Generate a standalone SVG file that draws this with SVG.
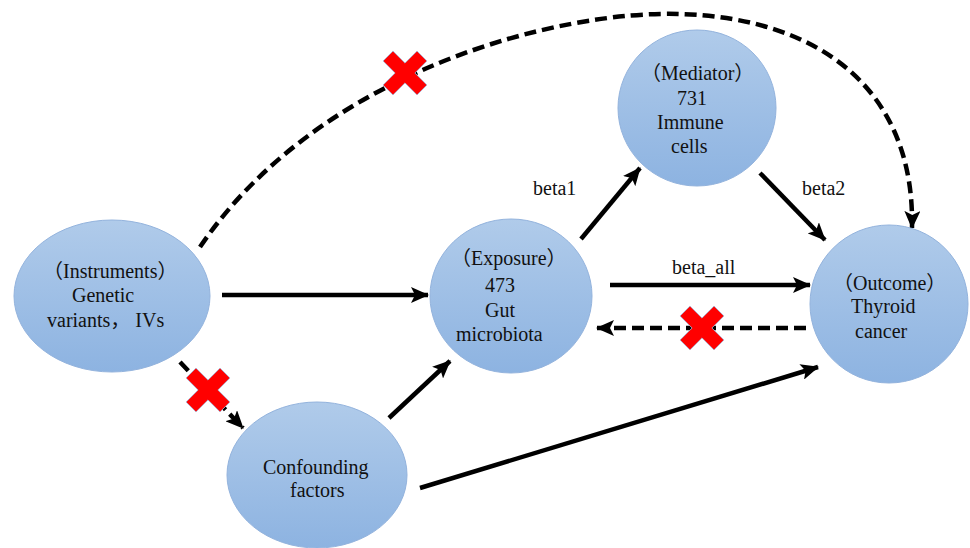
<svg xmlns="http://www.w3.org/2000/svg" width="970" height="548" viewBox="0 0 970 548">
<style>
.node{fill:url(#g);stroke:#93b3dd;stroke-width:1}
.t{font-family:'Liberation Serif','Times New Roman','Noto Sans CJK SC',serif;font-size:20px;fill:#111}
.lbl{font-family:'Liberation Serif','Times New Roman',serif;font-size:20px;fill:#111}
.c{fill:none;stroke:#000;stroke-width:4.5}
.d{stroke-dasharray:12 6}
.a{marker-end:url(#ah)}
.x{fill:#ff0000;stroke:#a8b8d8;stroke-width:0.8}
</style>
<defs>
<linearGradient id="g" x1="0" y1="0" x2="0" y2="1">
<stop offset="0" stop-color="#b0cbea"/>
<stop offset="1" stop-color="#8db3e1"/>
</linearGradient>
<marker id="ah" markerUnits="userSpaceOnUse" markerWidth="18" markerHeight="16" viewBox="0 0 18 16" refX="17" refY="8" orient="auto">
<path d="M0,0 L18,8 L0,16 L4,8 Z" fill="#000"/>
</marker>
<polygon id="cross" points="-7,-24 7,-24 7,-7 24,-7 24,7 7,7 7,24 -7,24 -7,7 -24,7 -24,-7 -7,-7" transform="rotate(45)"/>
</defs>
<g id="connectors">
<path class="c d a" d="M200,247 C320,70 560,10 680,14 C820,18 915,90 912,228"/>
<line class="c a" x1="222" y1="295" x2="428" y2="295"/>
<line class="c a" x1="581" y1="239" x2="640" y2="168"/>
<line class="c a" x1="760" y1="173" x2="825" y2="240"/>
<line class="c a" x1="610" y1="285" x2="810" y2="285"/>
<line class="c d a" x1="806" y1="328" x2="597" y2="328"/>
<line class="c a" x1="389" y1="418" x2="450" y2="361"/>
<line class="c a" x1="420" y1="488" x2="818" y2="367"/>
<line class="c d a" x1="180" y1="362" x2="243" y2="428"/>
</g>
<g id="instruments">
<ellipse class="node" cx="112" cy="296" rx="98" ry="76"/>
<text class="t" x="43" y="278">（Instruments）</text>
<text class="t" x="72" y="302">Genetic</text>
<text class="t" x="47" y="327">variants， IVs</text>
</g>
<g id="exposure">
<ellipse class="node" cx="511" cy="296" rx="81" ry="77"/>
<text class="t" x="451" y="265">（Exposure）</text>
<text class="t" x="485" y="292">473</text>
<text class="t" x="485" y="317">Gut</text>
<text class="t" x="456" y="341">microbiota</text>
</g>
<g id="mediator">
<ellipse class="node" cx="697" cy="108" rx="79" ry="78"/>
<text class="t" x="641" y="80">（Mediator）</text>
<text class="t" x="677" y="105">731</text>
<text class="t" x="657" y="129">Immune</text>
<text class="t" x="671" y="153">cells</text>
</g>
<g id="outcome">
<ellipse class="node" cx="889" cy="304" rx="79" ry="79"/>
<text class="t" x="833" y="290">（Outcome）</text>
<text class="t" x="851" y="313">Thyroid</text>
<text class="t" x="855" y="338">cancer</text>
</g>
<g id="confounding">
<ellipse class="node" cx="317" cy="475" rx="90" ry="73"/>
<text class="t" x="263" y="474">Confounding</text>
<text class="t" x="290" y="497">factors</text>
</g>
<g id="labels">
<text class="lbl" x="533" y="195">beta1</text>
<text class="lbl" x="802" y="195">beta2</text>
<text class="lbl" x="672" y="274">beta_all</text>
</g>
<g id="crosses">
<use href="#cross" class="x" x="405" y="73"/>
<use href="#cross" class="x" x="208" y="390"/>
<use href="#cross" class="x" x="702" y="328"/>
</g>
</svg>
